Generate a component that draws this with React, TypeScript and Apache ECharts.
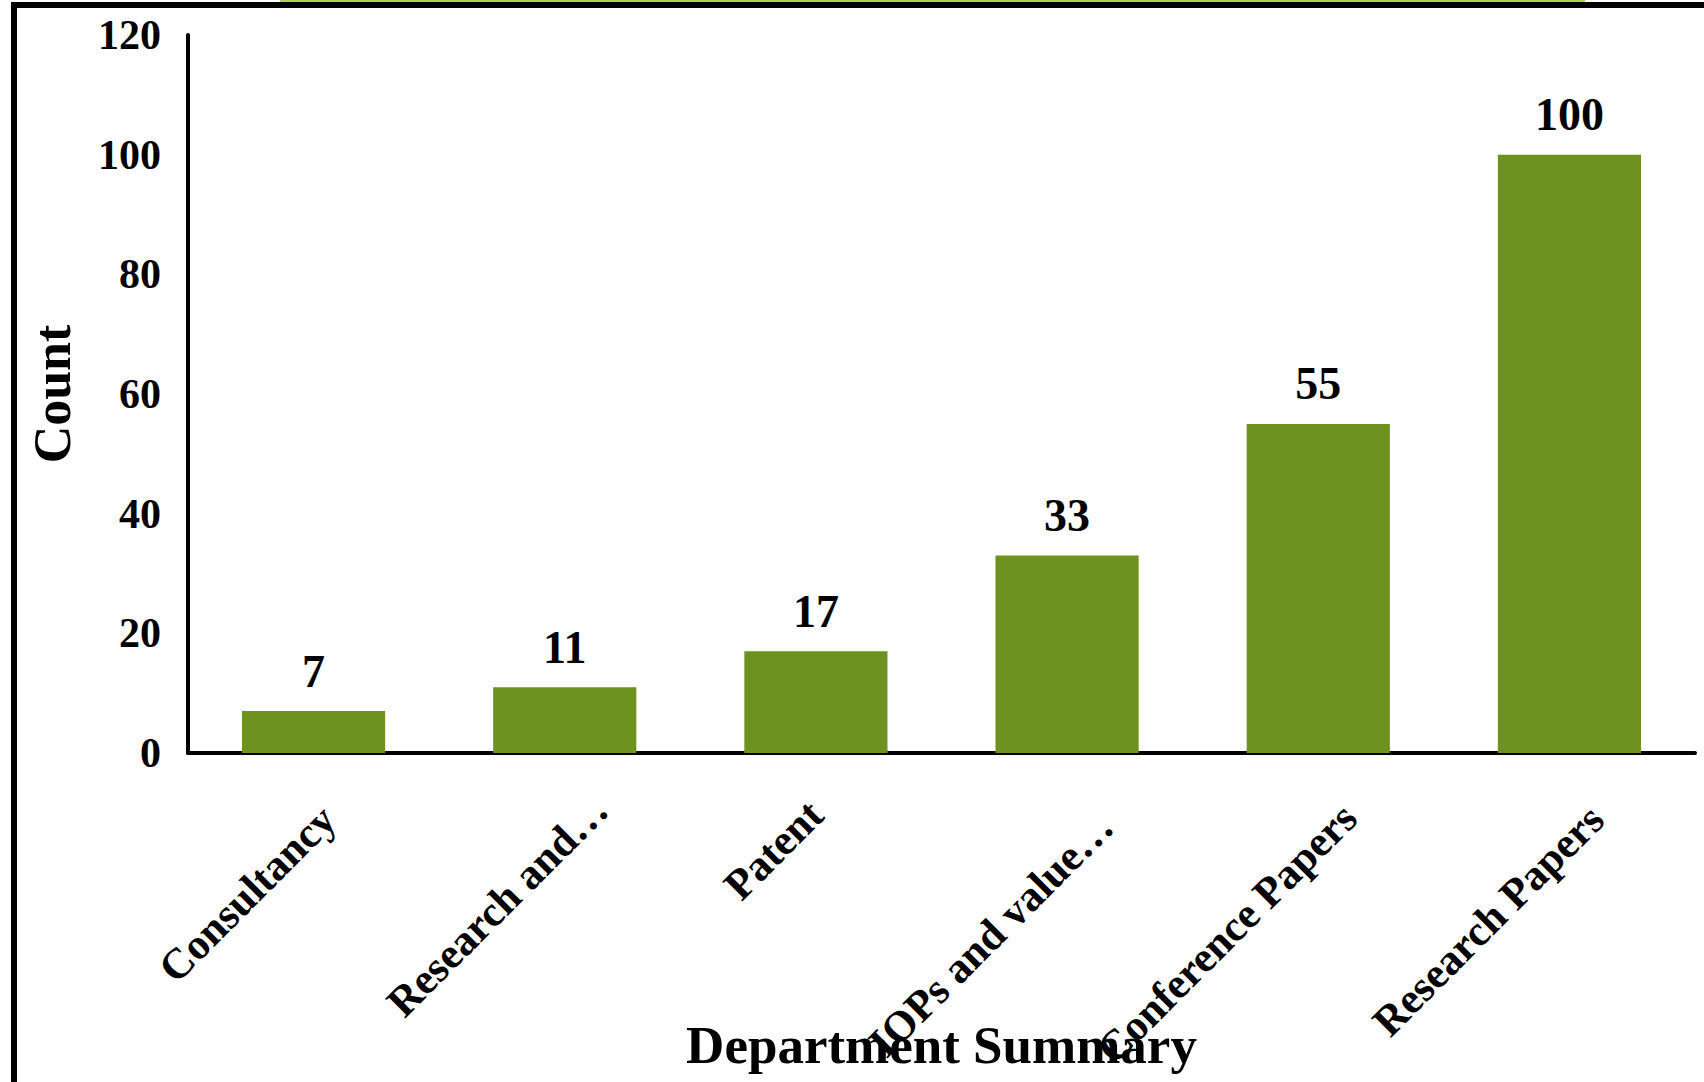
import React, { useEffect, useRef } from "react";
import * as echarts from "echarts";

const categories = [
  "Consultancy",
  "Research and…",
  "Patent",
  "IOPs and value…",
  "Conference Papers",
  "Research Papers",
];
const counts = [7, 11, 17, 33, 55, 100];
const yTicks = { min: 0, max: 120, interval: 20 };
const xAxisTitle = "Department Summary";
const yAxisTitle = "Count";

// label placement nudges (styling only): [line height, right padding]
const labelNudge = [
  [99, 29],
  [115, 7],
  [71, 36],
  [143, 17],
  [120, 16],
  [116, 20],
];

const FONT = "'Liberation Serif', 'Times New Roman', serif";

export default function App() {
  const ref = useRef<HTMLDivElement>(null);
  useEffect(() => {
    if (!ref.current) return;
    const chart = echarts.init(ref.current, undefined, { renderer: "svg" });
    const catData = categories.map((c, i) => ({
      value: c,
      textStyle: { lineHeight: labelNudge[i][0], padding: [0, labelNudge[i][1], 0, 0] },
    }));
    chart.setOption({
      animation: false,
      backgroundColor: "#ffffff",
      textStyle: { fontFamily: FONT },
      graphic: [
        { type: "rect", shape: { x: 280, y: 0, width: 1305, height: 3 }, style: { fill: "#a9d14b" }, z: 10 },
        { type: "rect", shape: { x: 11, y: 2, width: 1693, height: 6 }, style: { fill: "#000000" }, z: 11 },
        { type: "rect", shape: { x: 11, y: 2, width: 6, height: 1080 }, style: { fill: "#000000" }, z: 11 },
      ],
      grid: { left: 188, right: 9, top: 35, bottom: 329, outerBoundsMode: "none" },
      xAxis: {
        type: "category",
        data: catData,
        name: xAxisTitle,
        nameLocation: "middle",
        nameGap: 265,
        nameMoveOverlap: false,
        nameTextStyle: { fontFamily: FONT, fontWeight: "bold", fontSize: 53, color: "#000" },
        axisLine: { show: true, lineStyle: { color: "#000", width: 4 } },
        axisTick: { show: false },
        axisLabel: {
          interval: 0,
          rotate: 45,
          margin: 4,
          fontFamily: FONT,
          fontWeight: "bold",
          fontSize: 43,
          color: "#000",
          hideOverlap: false,
          formatter: (v: string) => "\n" + v,
        },
        splitLine: { show: false },
      },
      yAxis: {
        type: "value",
        min: yTicks.min,
        max: yTicks.max,
        interval: yTicks.interval,
        name: yAxisTitle,
        nameLocation: "middle",
        nameGap: 110,
        nameMoveOverlap: false,
        nameTextStyle: { fontFamily: FONT, fontWeight: "bold", fontSize: 52, color: "#000" },
        axisLine: { show: true, lineStyle: { color: "#000", width: 4 } },
        axisTick: { show: false },
        splitLine: { show: false },
        axisLabel: {
          margin: 27,
          fontFamily: FONT,
          fontWeight: "bold",
          fontSize: 42,
          color: "#000",
        },
      },
      series: [
        {
          type: "bar",
          data: counts,
          barCategoryGap: "43%",
          itemStyle: { color: "#6E9220" },
          label: {
            show: true,
            position: "top",
            distance: 17,
            fontFamily: FONT,
            fontWeight: "bold",
            fontSize: 46,
            color: "#000",
          },
        },
      ],
    });
    return () => chart.dispose();
  }, []);
  return (
    <div
      ref={ref}
      style={{ position: "fixed", left: 0, top: 0, width: 1704, height: 1082, background: "#fff" }}
    />
  );
}
